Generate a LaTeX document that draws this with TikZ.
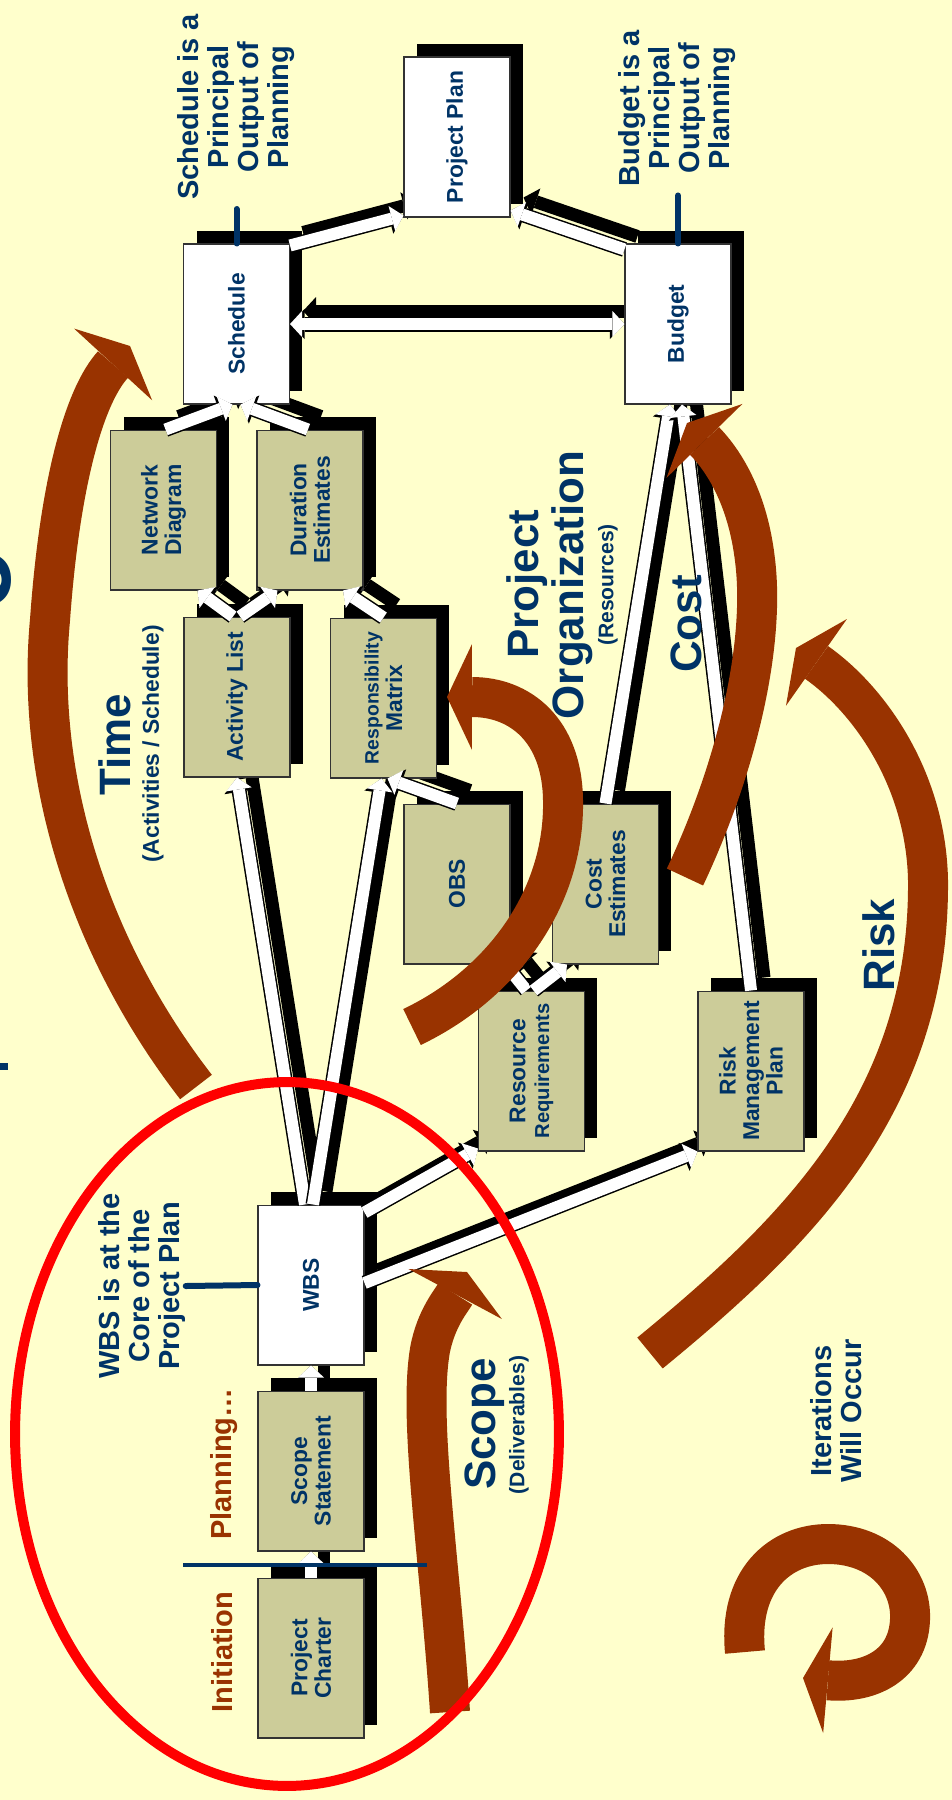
\documentclass[tikz,border=0pt]{standalone}
\usepackage{fontspec}
\setmainfont{Liberation Sans}
\usetikzlibrary{arrows.meta,calc,shadows,positioning}

\definecolor{paper}{HTML}{FFFFCC}
\definecolor{navy}{HTML}{003366}
\definecolor{rust}{HTML}{993300}
\definecolor{khaki}{HTML}{CCCC99}

\newcommand\tagfont{\fontsize{13}{13.4}\selectfont\bfseries}
\newcommand\notefont{\fontsize{16.5}{17}\selectfont\bfseries}
\newcommand\headfont{\fontsize{25}{27}\selectfont\bfseries}
\newcommand\parenfont{\fontsize{12}{13}\selectfont\bfseries}

\pgfdeclarelayer{back}
\pgfdeclarelayer{wire}
\pgfsetlayers{back,wire,main}

% white block arrow with its black shadow
\newcommand\linkarrow[3][->]{%
  \begin{pgfonlayer}{wire}
    \draw[linkshadow,#1] #2 -- #3;
  \end{pgfonlayer}
  \draw[linkrim,#1] #2 -- #3;
  \draw[linkfill,#1] #2 -- #3;
}

\tikzset{
  box/.style={draw=black!80, line width=0.6pt, fill=khaki, minimum width=2.12cm,
    minimum height=3.2cm, inner sep=0pt,
    general shadow={fill=black, shadow xshift=0.26cm, shadow yshift=0.26cm}},
  outbox/.style={box, fill=white},
  tag/.style={rotate=90, align=center, text=navy, font=\tagfont, inner sep=0pt},
  note/.style={rotate=90, align=center, text=navy, font=\notefont, inner sep=0pt},
  head/.style={rotate=90, text=navy, font=\headfont, inner sep=0pt},
  paren/.style={rotate=90, text=navy, font=\parenfont, inner sep=0pt},
  linkshadow/.style={line width=0.26cm, black,
    >={Triangle[width=0.56cm,length=0.26cm,line width=0pt]},
    transform canvas={shift={(0.26cm,0.26cm)}}},
  linkrim/.style={line width=0.3cm, black,
    >={Triangle[width=0.6cm,length=0.29cm,line width=0pt]}},
  linkfill/.style={line width=0.24cm, white,
    >={Triangle[width=0.52cm,length=0.24cm,line width=0pt]}},
  sweep/.style={draw=rust, line width=0.8cm,
    -{Triangle[width=2.12cm,length=0.5cm,line width=0pt]}},
  halo/.style={draw=red, line width=0.2cm},
  pointer/.style={draw=navy, line width=0.12cm, line cap=round},
  divider/.style={draw=navy, line width=0.08cm}
}

\begin{document}
\begin{tikzpicture}[x=0.02cm, y=-0.02cm]
  \useasboundingbox (0,0) rectangle (952,1800);
  \begin{pgfonlayer}{back}
    \fill[paper] (0,0) rectangle (952,1800);
  \end{pgfonlayer}

  % title cut off at the left edge
  \node[rotate=90, text=navy, font=\fontsize{57}{60}\selectfont\bfseries, inner sep=0pt] (titlebit) at (-16,580) {o};
  \fill[navy] (0,1063) rectangle (8,1070);

  % boxes
  \node[box, label={[tag]center:{Project\\Charter}}] (pc) at (311,1658) {};
  \node[box, label={[tag]center:{Scope\\Statement}}] (ss) at (311,1471) {};
  \node[outbox, label={[tag]center:WBS}] (wbs) at (311,1285) {};
  \node[box, label={[tag]center:{Activity List}}] (al) at (237,697) {};
  \node[box, label={[tag]center:{{\fontsize{11}{12}\selectfont Responsibility}\\Matrix}}] (rm) at (383.5,698) {};
  \node[box, label={[tag]center:{Network\\Diagram}}] (nd) at (163.5,510) {};
  \node[box, label={[tag]center:{Duration\\Estimates}}] (de) at (310,510) {};
  \node[outbox, label={[tag]center:Schedule}] (sched) at (236.5,324) {};
  \node[outbox, label={[tag]center:Budget}] (budget) at (678,324) {};
  \node[outbox, label={[tag]center:{Project Plan}}] (pp) at (457,137) {};
  \node[box, label={[tag]center:OBS}] (obs) at (457,884) {};
  \node[box, label={[tag]center:{Cost\\Estimates}}] (ce) at (605.5,884) {};
  \node[box, label={[tag]center:{Resource\\{\fontsize{11.5}{12}\selectfont Requirements}}}] (rr) at (531.5,1071) {};
  \node[box, label={[tag]center:{Risk\\Management\\Plan}}] (rmp) at (751,1071) {};

  % connectors
  \linkarrow{(pc.north)}{(ss.south)}
  \linkarrow{(ss.north)}{(wbs.south)}
  \linkarrow{($(wbs.north)+(-6,0)$)}{(al.south)}
  \linkarrow{($(wbs.north)+(2,0)$)}{($(rm.south)+(-2,0)$)}
  \linkarrow{($(wbs.north east)+(0,8)$)}{($(rr.south west)+(0,-3)$)}
  \linkarrow{($(wbs.east)+(0,-2)$)}{(rmp.south west)}
  \linkarrow{($(rr.north)+(-5,0)$)}{($(obs.south east)+(-5,0)$)}
  \linkarrow{($(rr.north)+(2,0)$)}{($(ce.south west)+(15,0)$)}
  \linkarrow{(obs.north)}{($(rm.south)+(4,0)$)}
  \linkarrow{($(al.north)+(-4,0)$)}{($(nd.south)+(34,0)$)}
  \linkarrow{($(al.north)+(3,0)$)}{($(de.south west)+(21,0)$)}
  \linkarrow{(rm.north)}{($(de.south)+(33,0)$)}
  \linkarrow{($(nd.north)+(2,0)$)}{($(sched.south)+(-4,0)$)}
  \linkarrow{($(de.north)+(-2,0)$)}{($(sched.south)+(4,0)$)}
  \linkarrow{($(sched.north east)+(0,2)$)}{($(pp.south west)+(0,-2)$)}
  \linkarrow{($(budget.north west)+(0,6)$)}{($(pp.south east)+(0,-7)$)}
  \linkarrow[<->]{(sched.east)}{(budget.west)}
  \linkarrow{(ce.north)}{($(budget.south)+(-8,0)$)}
  \linkarrow{(rmp.north)}{($(budget.south)+(4,0)$)}

  % big curved arrows
  \draw[sweep] (196,1087) .. controls (90,950) and (35,780) .. (50,620) .. controls (60,480) and (85,395) .. (130,346);
  \draw[sweep] (450,1712) .. controls (440,1560) and (418,1420) .. (430,1350) .. controls (436,1318) and (452,1300) .. (467,1272);
  \draw[sweep] (412,1027) .. controls (500,985) and (565,900) .. (563,800) .. controls (562,730) and (520,697) .. (447,697);
  \draw[sweep] (685,877) .. controls (740,760) and (765,640) .. (755,560) .. controls (748,500) and (725,462) .. (687,423);
  \draw[sweep] (650,1353) .. controls (800,1230) and (930,1100) .. (928,880) .. controls (926,780) and (870,700) .. (796,648);
  \draw[sweep] (745,1652) .. controls (738,1580) and (780,1544) .. (828,1544) .. controls (880,1544) and (912,1580) .. (910,1620) .. controls (908,1665) and (870,1684) .. (803,1678);

  \draw[halo] (287,1434) ellipse [x radius=5.44cm, y radius=7.04cm];

  % texts
  \node[note] (schednote) at (236,107) {Schedule is a\\Principal\\Output of\\Planning};
  \node[note] (budgetnote) at (677,108) {Budget is a\\Principal\\Output of\\Planning};
  \node[note] (wbsnote) at (142,1286) {WBS is at the\\Core of the\\Project Plan};
  \node[note] (iternote) at (836,1411) {Iterations\\Will Occur};
  \node[note, text=rust] (init) at (222,1652) {Initiation};
  \node[note, text=rust] (plan) at (224,1464) {Planning\ldots};
  \node[head] (time) at (115,745) {Time};
  \node[paren, font=\fontsize{13}{14}\selectfont\bfseries] (timesub) at (153,744) {(Activities / Schedule)};
  \node[head] (proj) at (527,584) {Project};
  \node[head] (org) at (572,585) {Organization};
  \node[paren] (orgsub) at (608,585) {(Resources)};
  \node[head] (cost) at (686,624) {Cost};
  \node[head] (risk) at (879,945) {Risk};
  \node[head] (scope) at (485,1424) {Scope};
  \node[paren] (scopesub) at (519,1425) {(Deliverables)};

  \draw[pointer, shorten >=0.18cm] (sched.north) -- (sched.north |- schednote.west);
  \draw[pointer, shorten >=0.18cm] (budget.north) -- (budget.north |- budgetnote.west);
  \draw[pointer] (wbs.west) -- (wbsnote.south);
  \draw[divider] (183,1565) -- (427,1565);
\end{tikzpicture}
\end{document}
